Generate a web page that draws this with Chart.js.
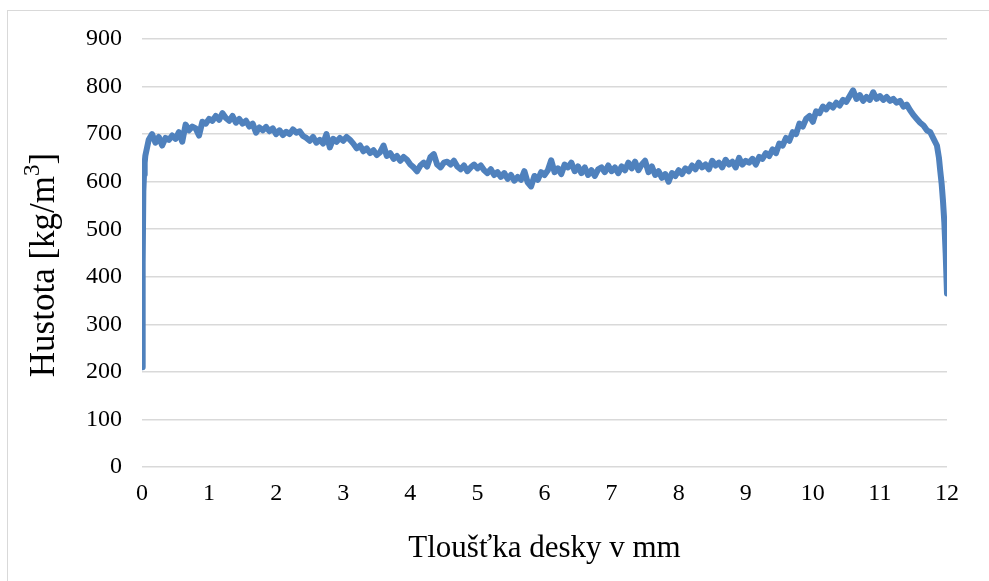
<!DOCTYPE html>
<html>
<head>
<meta charset="utf-8">
<script src="https://cdn.jsdelivr.net/npm/chart.js@4"></script>
<style>
  html, body { margin:0; padding:0; background:#fff; }
  #wrap { position:relative; width:989px; height:581px; overflow:hidden; }
  #frame { position:absolute; left:7px; top:10px; width:1000px; height:600px; border:1px solid #d9d9d9; box-sizing:border-box; }
  #ch { position:absolute; left:0; top:0; }
</style>
</head>
<body>
<div id="wrap">
  <div id="frame"></div>
  <canvas id="ch" width="989" height="581"></canvas>
</div>
<script>
// ── data ─────────────────────────────────────────────────────────────────────
const X_TICKS = [0,1,2,3,4,5,6,7,8,9,10,11,12];
const Y_TICKS = [0,100,200,300,400,500,600,700,800,900];

// thickness in mm
const thickness = [
  0,0.01,0.02,0.03,0.04,
  0.05,0.10,0.15,0.20,0.25,0.30,0.35,0.40,0.45,0.50,0.55,0.60,0.65,0.70,0.75,0.80,0.85,0.90,0.95,1.00,
  1.05,1.10,1.15,1.20,1.25,1.30,1.35,1.40,1.45,1.50,1.55,1.60,1.65,1.70,1.75,1.80,1.85,1.90,1.95,2.00,
  2.05,2.10,2.15,2.20,2.25,2.30,2.35,2.40,2.45,2.50,2.55,2.60,2.65,2.70,2.75,2.80,2.85,2.90,2.95,3.00,
  3.05,3.10,3.15,3.20,3.25,3.30,3.35,3.40,3.45,3.50,3.55,3.60,3.65,3.70,3.75,3.80,3.85,3.90,3.95,4.00,
  4.05,4.10,4.15,4.20,4.25,4.30,4.35,4.40,4.45,4.50,4.55,4.60,4.65,4.70,4.75,4.80,4.85,4.90,4.95,5.00,
  5.05,5.10,5.15,5.20,5.25,5.30,5.35,5.40,5.45,5.50,5.55,5.60,5.65,5.70,5.75,5.80,5.85,5.90,5.95,6.00,
  6.05,6.10,6.15,6.20,6.25,6.30,6.35,6.40,6.45,6.50,6.55,6.60,6.65,6.70,6.75,6.80,6.85,6.90,6.95,7.00,
  7.05,7.10,7.15,7.20,7.25,7.30,7.35,7.40,7.45,7.50,7.55,7.60,7.65,7.70,7.75,7.80,7.85,7.90,7.95,8.00,
  8.05,8.10,8.15,8.20,8.25,8.30,8.35,8.40,8.45,8.50,8.55,8.60,8.65,8.70,8.75,8.80,8.85,8.90,8.95,9.00,
  9.05,9.10,9.15,9.20,9.25,9.30,9.35,9.40,9.45,9.50,9.55,9.60,9.65,9.70,9.75,9.80,9.85,9.90,9.95,10.00,
  10.05,10.10,10.15,10.20,10.25,10.30,10.35,10.40,10.45,10.50,10.55,10.60,10.65,10.70,10.75,10.80,10.85,10.90,10.95,11.00,
  11.05,11.10,11.15,11.20,11.25,11.30,11.35,11.40,11.45,11.50,11.55,11.60,11.65,11.70,11.75,11.80,11.85,11.88,11.90,11.92,11.94,11.96,11.98,12.00
];

// density in kg/m3
const density = [
  210,430,580,615,640,
  655,688,700,682,694,676,692,688,697,690,704,684,720,708,716,712,697,726,722,732,
  728,738,730,744,734,728,738,724,732,722,728,716,722,703,714,708,715,706,712,700,
  708,698,705,700,710,703,706,696,692,686,694,682,688,680,700,672,690,684,692,686,
  694,688,680,670,676,664,670,660,666,656,662,676,654,660,648,654,644,652,646,636,
  630,622,634,640,632,652,658,636,630,640,642,636,644,632,626,634,622,630,636,628,
  634,624,618,626,614,620,610,618,606,614,602,610,604,622,598,590,612,604,620,614,
  624,645,620,628,616,636,630,640,622,632,618,630,614,624,612,626,630,620,634,622,
  630,618,632,624,640,628,642,624,636,644,620,632,614,622,608,616,600,618,612,624,
  616,628,622,634,626,640,630,636,626,644,634,640,630,646,636,642,630,650,636,644,
  640,648,636,652,648,660,654,668,660,680,676,692,686,704,700,722,716,732,738,726,
  748,744,758,752,762,756,766,760,772,768,780,792,774,782,770,778,772,788,774,780,
  772,778,770,774,766,770,758,762,750,740,732,724,718,708,704,690,676,650,622,596,560,515,450,365
];

const LINE_COLOR = '#4f81bd';
const GRID_COLOR = '#d9d9d9';
const SERIF = "'Liberation Serif', 'Times New Roman', serif";

const points = thickness.map((t, i) => ({ x: t, y: density[i] }));

// y title with a real superscript "3"
const yTitle = {
  id: 'yTitle',
  afterDraw(chart) {
    const ctx = chart.ctx;
    const parts = [
      { t: 'Hustota [kg/m', size: 35, dy: 0 },
      { t: '3', size: 23, dy: -12 },
      { t: ']', size: 35, dy: 0 },
    ];
    ctx.save();
    ctx.translate(45, 265);
    ctx.rotate(-Math.PI / 2);
    ctx.fillStyle = '#000';
    ctx.textBaseline = 'middle';
    let total = 0;
    parts.forEach(p => { ctx.font = p.size + 'px ' + SERIF; p.w = ctx.measureText(p.t).width; total += p.w; });
    let x = -total / 2;
    parts.forEach(p => {
      ctx.font = p.size + 'px ' + SERIF;
      ctx.fillText(p.t, x, p.dy);
      x += p.w;
    });
    ctx.restore();
  }
};

new Chart(document.getElementById('ch').getContext('2d'), {
  type: 'scatter',
  data: {
    datasets: [{
      data: points,
      showLine: true,
      borderColor: LINE_COLOR,
      borderWidth: 6,
      pointRadius: 0,
      borderJoinStyle: 'round',
      borderCapStyle: 'round',
      tension: 0,
    }]
  },
  options: {
    responsive: false,
    animation: false,
    layout: { padding: { top: 39, right: 42, bottom: 0, left: 0 } },
    plugins: { legend: { display: false }, tooltip: { enabled: false } },
    scales: {
      x: {
        type: 'linear', min: 0, max: 12,
        afterBuildTicks: s => { s.ticks = X_TICKS.map(v => ({ value: v })); },
        afterFit: s => { s.height = 114; },
        grid: { display: false, drawTicks: false },
        border: { display: false },
        ticks: { color: '#000', padding: 12, font: { family: SERIF, size: 24 } },
        title: { display: true, text: 'Tloušťka desky v mm', color: '#000', padding: { top: 0, bottom: 14 }, font: { family: SERIF, size: 31, weight: 'normal' } },
      },
      y: {
        type: 'linear', min: 0, max: 900,
        afterBuildTicks: s => { s.ticks = Y_TICKS.map(v => ({ value: v })); },
        afterFit: s => { s.width = 142; },
        grid: { color: GRID_COLOR, lineWidth: 1.5, drawTicks: false },
        border: { display: false },
        ticks: { color: '#000', padding: 20, font: { family: SERIF, size: 24 } },
        title: { display: false },
      }
    }
  },
  plugins: [yTitle]
});
</script>
</body>
</html>
